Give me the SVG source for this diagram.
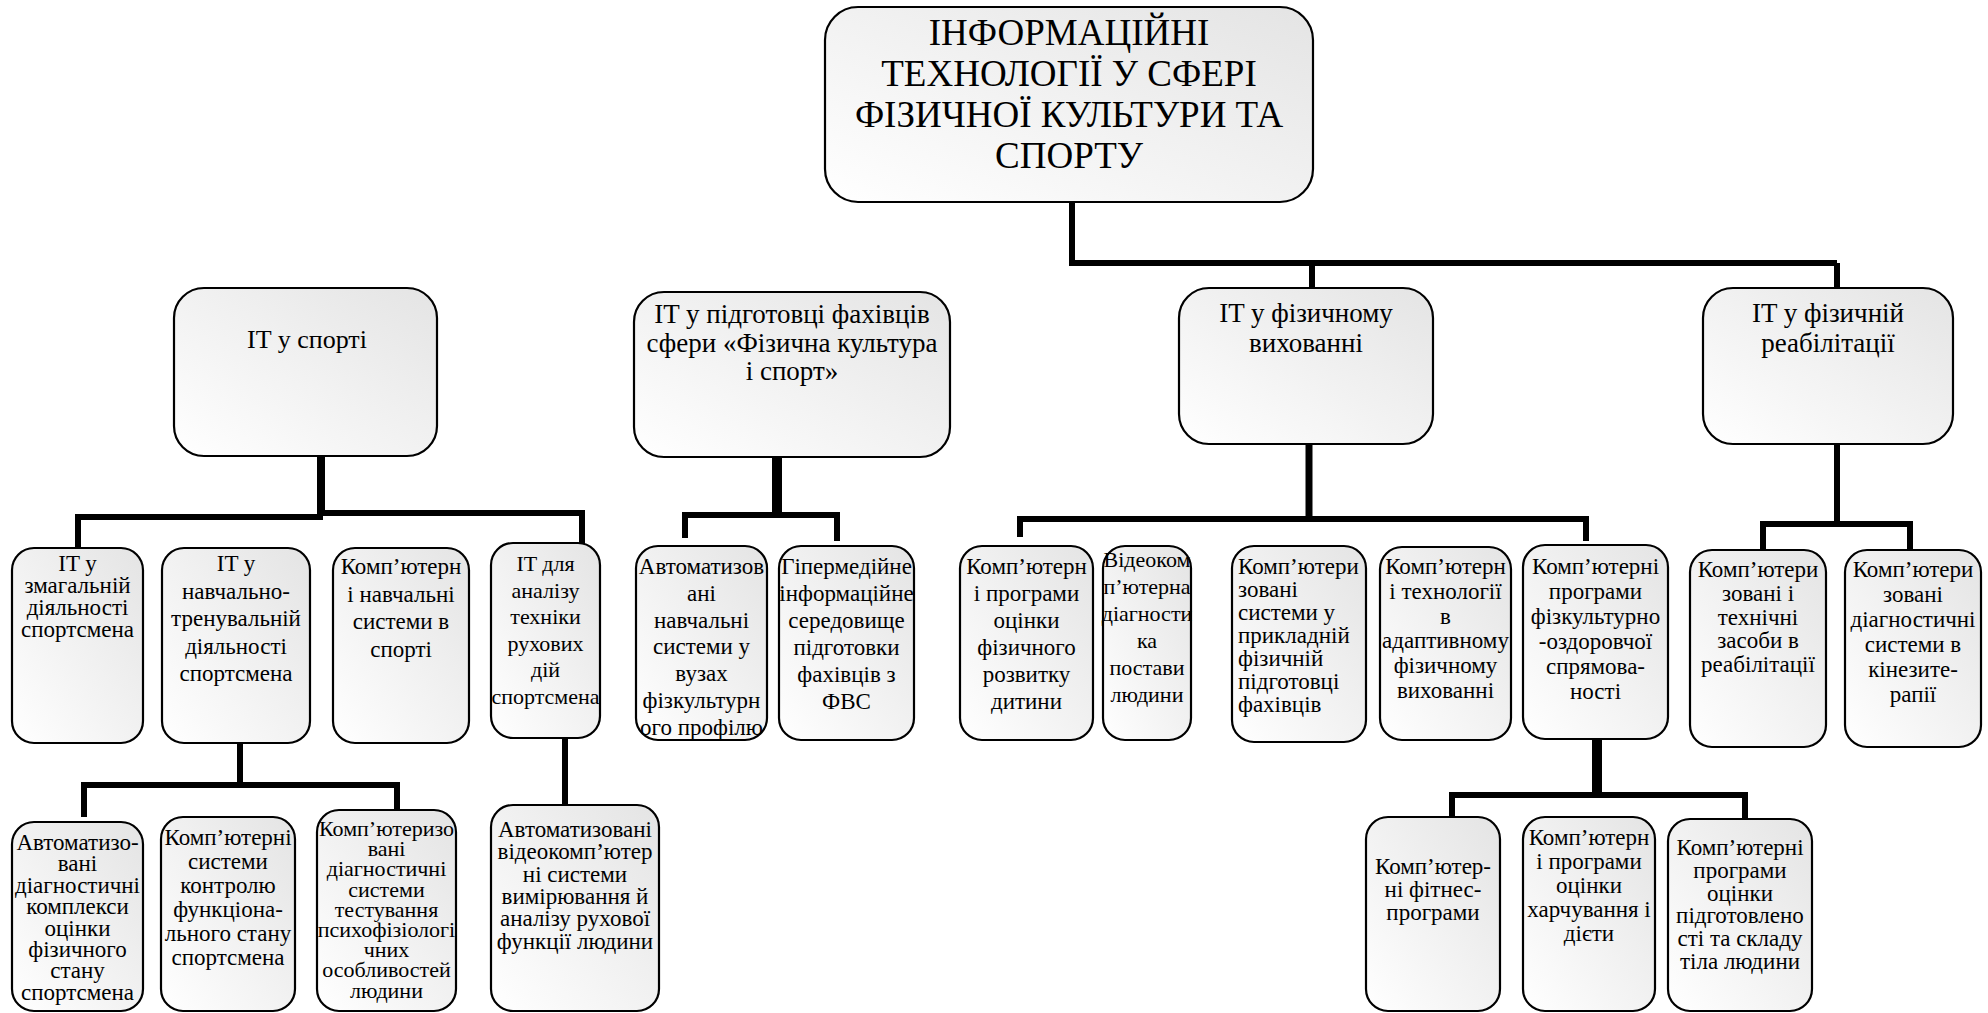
<svg xmlns="http://www.w3.org/2000/svg" width="1988" height="1013" viewBox="0 0 1988 1013">
<defs>
<linearGradient id="g" x1="0" y1="1" x2="1" y2="0">
<stop offset="0" stop-color="#ffffff"/>
<stop offset="1" stop-color="#e4e4e4"/>
</linearGradient>
<style>
.box{fill:url(#g);stroke:#000;stroke-width:2.2}
text{font-family:"Liberation Serif","Times New Roman",serif;fill:#000;text-anchor:middle}
.l{text-anchor:start}
.f1{font-size:37px}
.f2{font-size:27px}
.f2s{font-size:26px}
.f3{font-size:23px}
.f3s{font-size:22px}
.c{stroke:#000;fill:none;stroke-width:6;stroke-linejoin:miter;stroke-linecap:butt}
</style>
</defs>
<rect width="1988" height="1013" fill="#fff"/>

<g id="connectors">
<path class="c" d="M1072,201 V263 H1837 M1312,263 V289 M1837,263 V289"/>
<path class="c" d="M320,456 V517 M78,517 H323 M78,514 V562 M320,513 H585 M582,510 V545"/>
<path class="c" style="stroke-width:8" d="M321,456 V516"/>
<path class="c" style="stroke-width:10" d="M777,457 V515"/>
<path class="c" d="M682,515 H840 M685,512 V538 M837,512 V541"/>
<path class="c" style="stroke-width:7" d="M1309,444 V519"/>
<path class="c" d="M1017,519 H1589 M1020,516 V537 M1586,516 V541"/>
<path class="c" d="M1837,444 V524 M1760,524 H1913 M1763,521 V550 M1910,521 V550"/>
<path class="c" d="M240,743 V785 M81,785 H400 M84,782 V817 M397,782 V810"/>
<path class="c" d="M565,738 V805"/>
<path class="c" style="stroke-width:10" d="M1597,739 V796"/>
<path class="c" d="M1449,795 H1748 M1452,792 V817 M1745,792 V819"/>
</g>

<g id="root">
<rect class="box" x="825" y="7" width="488" height="195" rx="33"/>
<text class="f1"><tspan x="1069" y="45">ІНФОРМАЦІЙНІ</tspan><tspan x="1069" y="86">ТЕХНОЛОГІЇ У СФЕРІ</tspan><tspan x="1069" y="127">ФІЗИЧНОЇ КУЛЬТУРИ ТА</tspan><tspan x="1069" y="168">СПОРТУ</tspan></text>
</g>

<g id="it-sport">
<rect class="box" x="174" y="288" width="263" height="168" rx="30"/>
<text class="f2s" x="307" y="348">IT у спорті</text>
</g>
<g id="it-training">
<rect class="box" x="634" y="292" width="316" height="165" rx="30"/>
<text class="f2"><tspan x="792" y="323">IT у підготовці фахівців</tspan><tspan x="792" y="351.5">сфери «Фізична культура</tspan><tspan x="792" y="380">і спорт»</tspan></text>
</g>
<g id="it-phys-ed">
<rect class="box" x="1179" y="288" width="254" height="156" rx="30"/>
<text class="f2"><tspan x="1306" y="322">IT у фізичному</tspan><tspan x="1306" y="352">вихованні</tspan></text>
</g>
<g id="it-rehab">
<rect class="box" x="1703" y="288" width="250" height="156" rx="30"/>
<text class="f2"><tspan x="1828" y="322">IT у фізичній</tspan><tspan x="1828" y="352">реабілітації</tspan></text>
</g>

<g id="b1">
<rect class="box" x="12" y="548" width="131" height="195" rx="22"/>
<text class="f3"><tspan x="77.5" y="571">IT у</tspan><tspan x="77.5" y="593">змагальній</tspan><tspan x="77.5" y="615">діяльності</tspan><tspan x="77.5" y="637">спортсмена</tspan></text>
</g>
<g id="b2">
<rect class="box" x="162" y="548" width="148" height="195" rx="22"/>
<text class="f3"><tspan x="236" y="571">IT у</tspan><tspan x="236" y="598.5">навчально-</tspan><tspan x="236" y="626">тренувальній</tspan><tspan x="236" y="653.5">діяльності</tspan><tspan x="236" y="681">спортсмена</tspan></text>
</g>
<g id="b3">
<rect class="box" x="333" y="548" width="136" height="195" rx="22"/>
<text class="f3"><tspan x="401" y="574">Комп’ютерн</tspan><tspan x="401" y="601.5">і навчальні</tspan><tspan x="401" y="629">системи в</tspan><tspan x="401" y="656.5">спорті</tspan></text>
</g>
<g id="b4">
<rect class="box" x="491" y="543" width="109" height="195" rx="22"/>
<text class="f3s"><tspan x="545.5" y="571">IT для</tspan><tspan x="545.5" y="597.6">аналізу</tspan><tspan x="545.5" y="624.2">техніки</tspan><tspan x="545.5" y="650.8">рухових</tspan><tspan x="545.5" y="677.4">дій</tspan><tspan x="545.5" y="704">спортсмена</tspan></text>
</g>
<g id="b5">
<rect class="box" x="636" y="546" width="131" height="194" rx="22"/>
<text class="f3"><tspan x="701.5" y="574">Автоматизов</tspan><tspan x="701.5" y="600.8">ані</tspan><tspan x="701.5" y="627.6">навчальні</tspan><tspan x="701.5" y="654.4">системи у</tspan><tspan x="701.5" y="681.2">вузах</tspan><tspan x="701.5" y="708">фізкультурн</tspan><tspan x="701.5" y="734.8">ого профілю</tspan></text>
</g>
<g id="b6">
<rect class="box" x="779" y="546" width="135" height="194" rx="22"/>
<text class="f3"><tspan x="846.5" y="574">Гіпермедійне</tspan><tspan x="846.5" y="601">інформаційне</tspan><tspan x="846.5" y="628">середовище</tspan><tspan x="846.5" y="655">підготовки</tspan><tspan x="846.5" y="682">фахівців з</tspan><tspan x="846.5" y="709">ФВС</tspan></text>
</g>
<g id="b7">
<rect class="box" x="960" y="546" width="133" height="194" rx="22"/>
<text class="f3"><tspan x="1026.5" y="574">Комп’ютерн</tspan><tspan x="1026.5" y="601">і програми</tspan><tspan x="1026.5" y="628">оцінки</tspan><tspan x="1026.5" y="655">фізичного</tspan><tspan x="1026.5" y="682">розвитку</tspan><tspan x="1026.5" y="709">дитини</tspan></text>
</g>
<g id="b8">
<rect class="box" x="1103" y="546" width="88" height="194" rx="22"/>
<text class="f3s"><tspan x="1147" y="567">Відеоком</tspan><tspan x="1147" y="594">п’ютерна</tspan><tspan x="1147" y="621">діагности</tspan><tspan x="1147" y="648">ка</tspan><tspan x="1147" y="675">постави</tspan><tspan x="1147" y="702">людини</tspan></text>
</g>
<g id="b9">
<rect class="box" x="1232" y="546" width="134" height="196" rx="22"/>
<text class="f3 l"><tspan x="1238" y="574">Комп’ютери</tspan><tspan x="1238" y="597">зовані</tspan><tspan x="1238" y="620">системи у</tspan><tspan x="1238" y="643">прикладній</tspan><tspan x="1238" y="666">фізичній</tspan><tspan x="1238" y="689">підготовці</tspan><tspan x="1238" y="712">фахівців</tspan></text>
</g>
<g id="b10">
<rect class="box" x="1380" y="547" width="131" height="193" rx="22"/>
<text class="f3"><tspan x="1445.5" y="574">Комп’ютерн</tspan><tspan x="1445.5" y="598.8">і технології</tspan><tspan x="1445.5" y="623.6">в</tspan><tspan x="1445.5" y="648.4">адаптивному</tspan><tspan x="1445.5" y="673.2">фізичному</tspan><tspan x="1445.5" y="698">вихованні</tspan></text>
</g>
<g id="b11">
<rect class="box" x="1523" y="545" width="145" height="194" rx="22"/>
<text class="f3"><tspan x="1595.5" y="574">Комп’ютерні</tspan><tspan x="1595.5" y="599">програми</tspan><tspan x="1595.5" y="624">фізкультурно</tspan><tspan x="1595.5" y="649">-оздоровчої</tspan><tspan x="1595.5" y="674">спрямова-</tspan><tspan x="1595.5" y="699">ності</tspan></text>
</g>
<g id="b12">
<rect class="box" x="1690" y="550" width="136" height="197" rx="22"/>
<text class="f3"><tspan x="1758" y="577">Комп’ютери</tspan><tspan x="1758" y="600.8">зовані і</tspan><tspan x="1758" y="624.6">технічні</tspan><tspan x="1758" y="648.4">засоби в</tspan><tspan x="1758" y="672.2">реабілітації</tspan></text>
</g>
<g id="b13">
<rect class="box" x="1845" y="550" width="136" height="197" rx="22"/>
<text class="f3"><tspan x="1913" y="577">Комп’ютери</tspan><tspan x="1913" y="602">зовані</tspan><tspan x="1913" y="627">діагностичні</tspan><tspan x="1913" y="652">системи в</tspan><tspan x="1913" y="677">кінезите-</tspan><tspan x="1913" y="702">рапії</tspan></text>
</g>

<g id="c1">
<rect class="box" x="12" y="822" width="131" height="189" rx="22"/>
<text class="f3"><tspan x="77.5" y="850">Автоматизо-</tspan><tspan x="77.5" y="871.4">вані</tspan><tspan x="77.5" y="892.8">діагностичні</tspan><tspan x="77.5" y="914.2">комплекси</tspan><tspan x="77.5" y="935.6">оцінки</tspan><tspan x="77.5" y="957">фізичного</tspan><tspan x="77.5" y="978.4">стану</tspan><tspan x="77.5" y="999.8">спортсмена</tspan></text>
</g>
<g id="c2">
<rect class="box" x="161" y="817" width="134" height="194" rx="22"/>
<text class="f3"><tspan x="228" y="845">Комп’ютерні</tspan><tspan x="228" y="869">системи</tspan><tspan x="228" y="893">контролю</tspan><tspan x="228" y="917">функціона-</tspan><tspan x="228" y="941">льного стану</tspan><tspan x="228" y="965">спортсмена</tspan></text>
</g>
<g id="c3">
<rect class="box" x="317" y="810" width="139" height="201" rx="22"/>
<text class="f3s"><tspan x="386.5" y="836">Комп’ютеризо</tspan><tspan x="386.5" y="856.2">вані</tspan><tspan x="386.5" y="876.4">діагностичні</tspan><tspan x="386.5" y="896.6">системи</tspan><tspan x="386.5" y="916.8">тестування</tspan><tspan x="386.5" y="937">психофізіологі</tspan><tspan x="386.5" y="957.2">чних</tspan><tspan x="386.5" y="977.4">особливостей</tspan><tspan x="386.5" y="997.6">людини</tspan></text>
</g>
<g id="c4">
<rect class="box" x="491" y="805" width="168" height="206" rx="22"/>
<text class="f3"><tspan x="575" y="837">Автоматизовані</tspan><tspan x="575" y="859.3">відеокомп’ютер</tspan><tspan x="575" y="881.6">ні системи</tspan><tspan x="575" y="903.9">вимірювання й</tspan><tspan x="575" y="926.2">аналізу рухової</tspan><tspan x="575" y="948.5">функції людини</tspan></text>
</g>
<g id="d1">
<rect class="box" x="1366" y="817" width="134" height="194" rx="22"/>
<text class="f3"><tspan x="1433" y="874">Комп’ютер-</tspan><tspan x="1433" y="897">ні фітнес-</tspan><tspan x="1433" y="920">програми</tspan></text>
</g>
<g id="d2">
<rect class="box" x="1523" y="817" width="132" height="194" rx="22"/>
<text class="f3"><tspan x="1589" y="845">Комп’ютерн</tspan><tspan x="1589" y="869">і програми</tspan><tspan x="1589" y="893">оцінки</tspan><tspan x="1589" y="917">харчування і</tspan><tspan x="1589" y="941">дієти</tspan></text>
</g>
<g id="d3">
<rect class="box" x="1668" y="819" width="144" height="192" rx="22"/>
<text class="f3"><tspan x="1740" y="855">Комп’ютерні</tspan><tspan x="1740" y="877.8">програми</tspan><tspan x="1740" y="900.6">оцінки</tspan><tspan x="1740" y="923.4">підготовлено</tspan><tspan x="1740" y="946.2">сті та складу</tspan><tspan x="1740" y="969">тіла людини</tspan></text>
</g>
</svg>
